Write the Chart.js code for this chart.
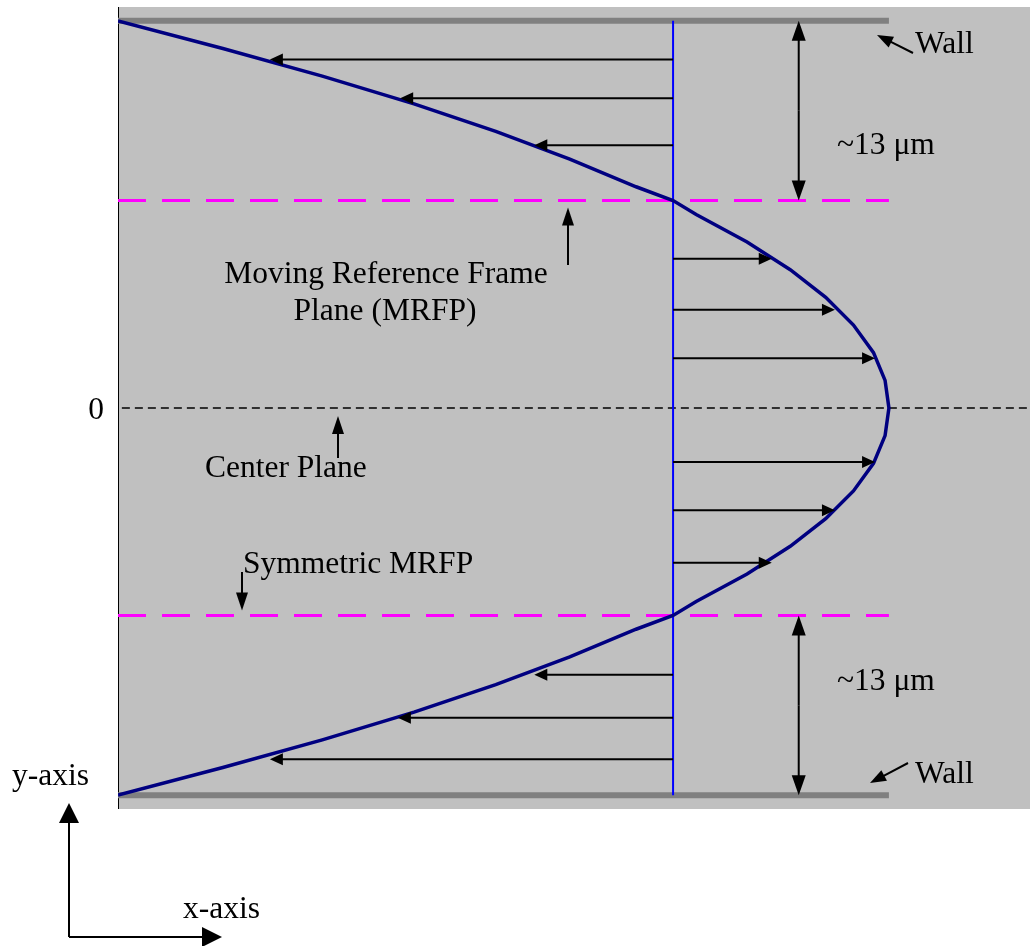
<!DOCTYPE html>
<html><head><meta charset="utf-8">
<script src="https://cdn.jsdelivr.net/npm/chart.js@4/dist/chart.umd.min.js"></script>
<style>html,body{margin:0;padding:0;background:#fff;} canvas{display:block;}</style>
</head><body>
<canvas id="c" width="1030" height="946"></canvas>
<script>
// ---- data (y: position across channel in µm, u: normalized velocity) ----
const profileY = [28, 26, 24, 22, 20, 18, 16, 15, 14, 12, 10, 8, 6, 4, 2, 0, -2, -4, -6, -8, -10, -12, -14, -15, -16, -18, -20, -22, -24, -26, -28];
const profileU = [0, 0.136, 0.265, 0.384, 0.49, 0.586, 0.672, 0.72, 0.75, 0.816, 0.872, 0.918, 0.954, 0.98, 0.995, 1.0, 0.995, 0.98, 0.954, 0.918, 0.872, 0.816, 0.75, 0.72, 0.672, 0.586, 0.49, 0.384, 0.265, 0.136, 0];
const arrowY = [25.2, 22.4, 19.0, 10.8, 7.1, 3.6, -3.9, -7.4, -11.2, -19.3, -22.4, -25.4];
const arrowU = [0.197, 0.366, 0.540, 0.848, 0.930, 0.982, 0.982, 0.930, 0.848, 0.540, 0.363, 0.197];
const wallY = [28, -28];
const mrfpY = [15, -15];
const centerY = 0;
const uRef = 0.72;      // velocity of moving reference frame
const uLineEnd = 1.0;   // extent of wall / MRFP lines
const uAxisMax = 1.183;
const yAxisMin = -29, yAxisMax = 29;
const dimU = 0.883;     // position of the ~13 µm dimension arrows
const labels = {
  wall: 'Wall', dim: '~13 \u03BCm', mrfp1: 'Moving Reference Frame', mrfp2: 'Plane (MRFP)',
  zero: '0', center: 'Center Plane', sym: 'Symmetric MRFP', yaxis: 'y-axis', xaxis: 'x-axis'
};

const FONT = '31.5px "Liberation Serif", "Times New Roman", serif';

function arrow(ctx, x1, y1, x2, y2, hl, hw, lw) {
  const a = Math.atan2(y2 - y1, x2 - x1);
  ctx.save();
  ctx.strokeStyle = '#000'; ctx.fillStyle = '#000'; ctx.lineWidth = lw;
  ctx.beginPath();
  ctx.moveTo(x1, y1);
  ctx.lineTo(x2 - Math.cos(a) * hl * 0.8, y2 - Math.sin(a) * hl * 0.8);
  ctx.stroke();
  ctx.beginPath();
  ctx.moveTo(x2, y2);
  ctx.lineTo(x2 - Math.cos(a) * hl - Math.sin(a) * hw, y2 - Math.sin(a) * hl + Math.cos(a) * hw);
  ctx.lineTo(x2 - Math.cos(a) * hl + Math.sin(a) * hw, y2 - Math.sin(a) * hl - Math.cos(a) * hw);
  ctx.closePath();
  ctx.fill();
  ctx.restore();
}

const bgPlugin = {
  id: 'bg',
  beforeDatasetsDraw(chart) {
    const {ctx, chartArea: a} = chart;
    ctx.save();
    ctx.fillStyle = '#C0C0C0';
    ctx.fillRect(a.left, a.top, a.right - a.left, a.bottom - a.top);
    ctx.strokeStyle = '#000'; ctx.lineWidth = 1;
    ctx.beginPath(); ctx.moveTo(a.left + 0.5, a.top); ctx.lineTo(a.left + 0.5, a.bottom); ctx.stroke();
    ctx.restore();
  },
  afterDatasetsDraw(chart) {
    const {ctx, scales: {x, y}} = chart;
    // velocity arrows from the reference frame line to the profile
    arrowY.forEach((yv, i) => {
      arrow(ctx, x.getPixelForValue(uRef), y.getPixelForValue(yv), x.getPixelForValue(arrowU[i]), y.getPixelForValue(yv), 13, 6, 2);
    });
    // dimension arrows (~13 µm)
    const dx = x.getPixelForValue(dimU);
    [[0, 0], [1, 1]].forEach(([w, m]) => {
      const y1 = y.getPixelForValue(wallY[w]), y2 = y.getPixelForValue(mrfpY[m]);
      const mid = (y1 + y2) / 2;
      arrow(ctx, dx, mid, dx, y1, 20, 7, 2);
      arrow(ctx, dx, mid, dx, y2, 20, 7, 2);
    });
  },
  afterDraw(chart) {
    const {ctx, scales: {x, y}} = chart;
    ctx.save();
    ctx.fillStyle = '#000';
    ctx.font = FONT;
    ctx.textBaseline = 'alphabetic';
    ctx.textAlign = 'left';
    ctx.fillText(labels.wall, 915, 53);
    ctx.fillText(labels.wall, 915, 783);
    ctx.fillText(labels.dim, 837, 154);
    ctx.fillText(labels.dim, 837, 690);
    ctx.fillText(labels.center, 205, 477);
    ctx.fillText(labels.sym, 243, 573);
    ctx.fillText(labels.yaxis, 12, 785);
    ctx.fillText(labels.xaxis, 183, 918);
    ctx.textAlign = 'center';
    ctx.fillText(labels.mrfp1, 386, 283);
    ctx.fillText(labels.mrfp2, 385, 320);
    ctx.fillText(labels.zero, 96, 419);
    ctx.restore();
    // pointer arrows
    arrow(ctx, 913, 53, 877, 35, 16, 6, 2);
    arrow(ctx, 908, 763, 870, 783, 16, 6, 2);
    arrow(ctx, 568, 265, 568, y.getPixelForValue(mrfpY[0]) + 7, 18, 6, 2);
    arrow(ctx, 338, 458, 338, y.getPixelForValue(centerY) + 8, 18, 6, 2);
    arrow(ctx, 242, 572, 242, y.getPixelForValue(mrfpY[1]) - 5, 18, 6, 2);
    // coordinate system arrows
    arrow(ctx, 69, 937, 69, 803, 20, 10, 2);
    arrow(ctx, 69, 937, 222, 937, 20, 10, 2);
  }
};

const profile = profileY.map((yv, i) => ({x: profileU[i], y: yv}));
const hLine = (yv, u1) => [{x: 0, y: yv}, {x: u1, y: yv}];

const datasets = [
  {label: 'profile', data: profile, borderColor: '#000080', borderWidth: 3.5, order: 0},
  {label: 'ref', data: [{x: uRef, y: wallY[0]}, {x: uRef, y: wallY[1]}], borderColor: '#0000FF', borderWidth: 2, order: 1},
  {label: 'wallTop', data: hLine(wallY[0], uLineEnd), borderColor: '#808080', borderWidth: 6, order: 2},
  {label: 'wallBot', data: hLine(wallY[1], uLineEnd), borderColor: '#808080', borderWidth: 6, order: 2},
  {label: 'mrfpTop', data: hLine(mrfpY[0], uLineEnd), borderColor: '#FF00FF', borderWidth: 3, borderDash: [28, 16], order: 3},
  {label: 'mrfpBot', data: hLine(mrfpY[1], uLineEnd), borderColor: '#FF00FF', borderWidth: 3, borderDash: [28, 16], order: 3},
  {label: 'center', data: [{x: 0.005, y: centerY}, {x: uAxisMax, y: centerY}], borderColor: '#000', borderWidth: 1.5, borderDash: [8, 5], order: 4}
];
datasets.forEach(d => { d.showLine = true; d.pointRadius = 0; d.tension = 0; d.fill = false; });

new Chart(document.getElementById('c'), {
  type: 'scatter',
  data: {datasets},
  options: {
    responsive: false, animation: false, devicePixelRatio: 1,
    layout: {padding: {left: 118, right: 0, top: 7, bottom: 137}},
    plugins: {legend: {display: false}, tooltip: {enabled: false}},
    scales: {
      x: {type: 'linear', min: 0, max: uAxisMax, display: false},
      y: {type: 'linear', min: yAxisMin, max: yAxisMax, display: false}
    }
  },
  plugins: [bgPlugin]
});
</script>
</body></html>
